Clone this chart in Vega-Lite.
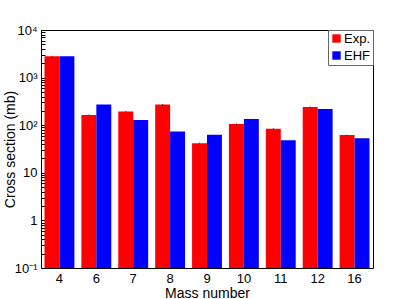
{
  "$schema": "https://vega.github.io/schema/vega-lite/v6.json",
  "autosize": {"type": "none"},
  "width": 332,
  "height": 238,
  "padding": {"left": 41, "top": 30, "right": 42, "bottom": 31},
  "background": "white",
  "config": {
    "font": "Liberation Sans",
    "view": {"stroke": "black", "strokeWidth": 1},
    "axis": {"labelFont": "Liberation Sans", "titleFont": "Liberation Sans", "labelColor": "black", "titleColor": "black", "titleFontWeight": "normal", "grid": false, "domainColor": "black", "tickColor": "black"}
  },
  "data": {
    "values": [
      {"mass": 4, "series": "Exp.", "value": 2800, "lo": 2730, "hi": 2870},
      {"mass": 4, "series": "EHF", "value": 2800},
      {"mass": 6, "series": "Exp.", "value": 164, "lo": 160, "hi": 168},
      {"mass": 6, "series": "EHF", "value": 273},
      {"mass": 7, "series": "Exp.", "value": 195, "lo": 190, "hi": 200},
      {"mass": 7, "series": "EHF", "value": 128},
      {"mass": 8, "series": "Exp.", "value": 273, "lo": 266, "hi": 280},
      {"mass": 8, "series": "EHF", "value": 74},
      {"mass": 9, "series": "Exp.", "value": 42, "lo": 41, "hi": 43},
      {"mass": 9, "series": "EHF", "value": 63},
      {"mass": 10, "series": "Exp.", "value": 106, "lo": 103, "hi": 109},
      {"mass": 10, "series": "EHF", "value": 135},
      {"mass": 11, "series": "Exp.", "value": 84, "lo": 82, "hi": 86},
      {"mass": 11, "series": "EHF", "value": 48},
      {"mass": 12, "series": "Exp.", "value": 241, "lo": 235, "hi": 247},
      {"mass": 12, "series": "EHF", "value": 219},
      {"mass": 16, "series": "Exp.", "value": 62, "lo": 60.5, "hi": 63.5},
      {"mass": 16, "series": "EHF", "value": 53}
    ]
  },
  "encoding": {
    "x": {
      "field": "mass", "type": "ordinal",
      "scale": {"paddingInner": 0.19, "paddingOuter": 0.095},
      "axis": {"title": "Mass number", "titleFontSize": 14, "labelFontSize": 13, "labelAngle": 0, "ticks": false, "domain": false, "labelPadding": 4, "titlePadding": 1}
    },
    "xOffset": {"field": "series", "type": "nominal", "scale": {"domain": ["Exp.", "EHF"], "paddingInner": 0, "paddingOuter": 0}}
  },
  "layer": [
    {
      "mark": {"type": "bar", "clip": true},
      "encoding": {
        "y": {
          "field": "value", "type": "quantitative", "stack": null,
          "scale": {"type": "log", "domain": [0.1, 10000], "nice": false},
          "axis": {
            "title": "Cross section (mb)", "titleFontSize": 14, "labelFontSize": 13, "titlePadding": -3,
            "values": [0.1, 0.2, 0.3, 0.4, 0.5, 0.6, 0.7, 0.8, 0.9, 1, 2, 3, 4, 5, 6, 7, 8, 9, 10, 20, 30, 40, 50, 60, 70, 80, 90, 100, 200, 300, 400, 500, 600, 700, 800, 900, 1000, 2000, 3000, 4000, 5000, 6000, 7000, 8000, 9000, 10000],
            "labelExpr": "datum.value == 10000 ? '10⁴' : datum.value == 1000 ? '10³' : datum.value == 100 ? '10²' : datum.value == 10 ? '10' : datum.value == 1 ? '1' : datum.value == 0.1 ? '10⁻¹' : ''",
            "tickSize": {"condition": {"test": "indexof([0.1, 1, 10, 100, 1000, 10000], datum.value) >= 0", "value": -8}, "value": -4},
            "labelPadding": 12,
            "labelOverlap": false,
            "labelBound": false,
            "labelFlush": false
          }
        },
        "y2": {"datum": 0.1},
        "color": {
          "field": "series", "type": "nominal",
          "scale": {"domain": ["Exp.", "EHF"], "range": ["#ff0000", "#0000ff"]},
          "legend": {
            "title": null, "orient": "top-right", "offset": 0,
            "strokeColor": "#666", "fillColor": "white", "padding": 2,
            "symbolType": "square", "symbolSize": 70, "symbolStrokeWidth": 0,
            "labelFontSize": 13, "labelFont": "Liberation Sans", "labelColor": "black", "rowPadding": 3, "labelOffset": 1
          }
        }
      }
    },
    {
      "transform": [{"filter": "datum.series == 'Exp.'"}],
      "mark": {"type": "rule", "color": "#333", "strokeWidth": 1},
      "encoding": {
        "y": {"field": "lo", "type": "quantitative"},
        "y2": {"field": "hi"}
      }
    }
  ]
}
